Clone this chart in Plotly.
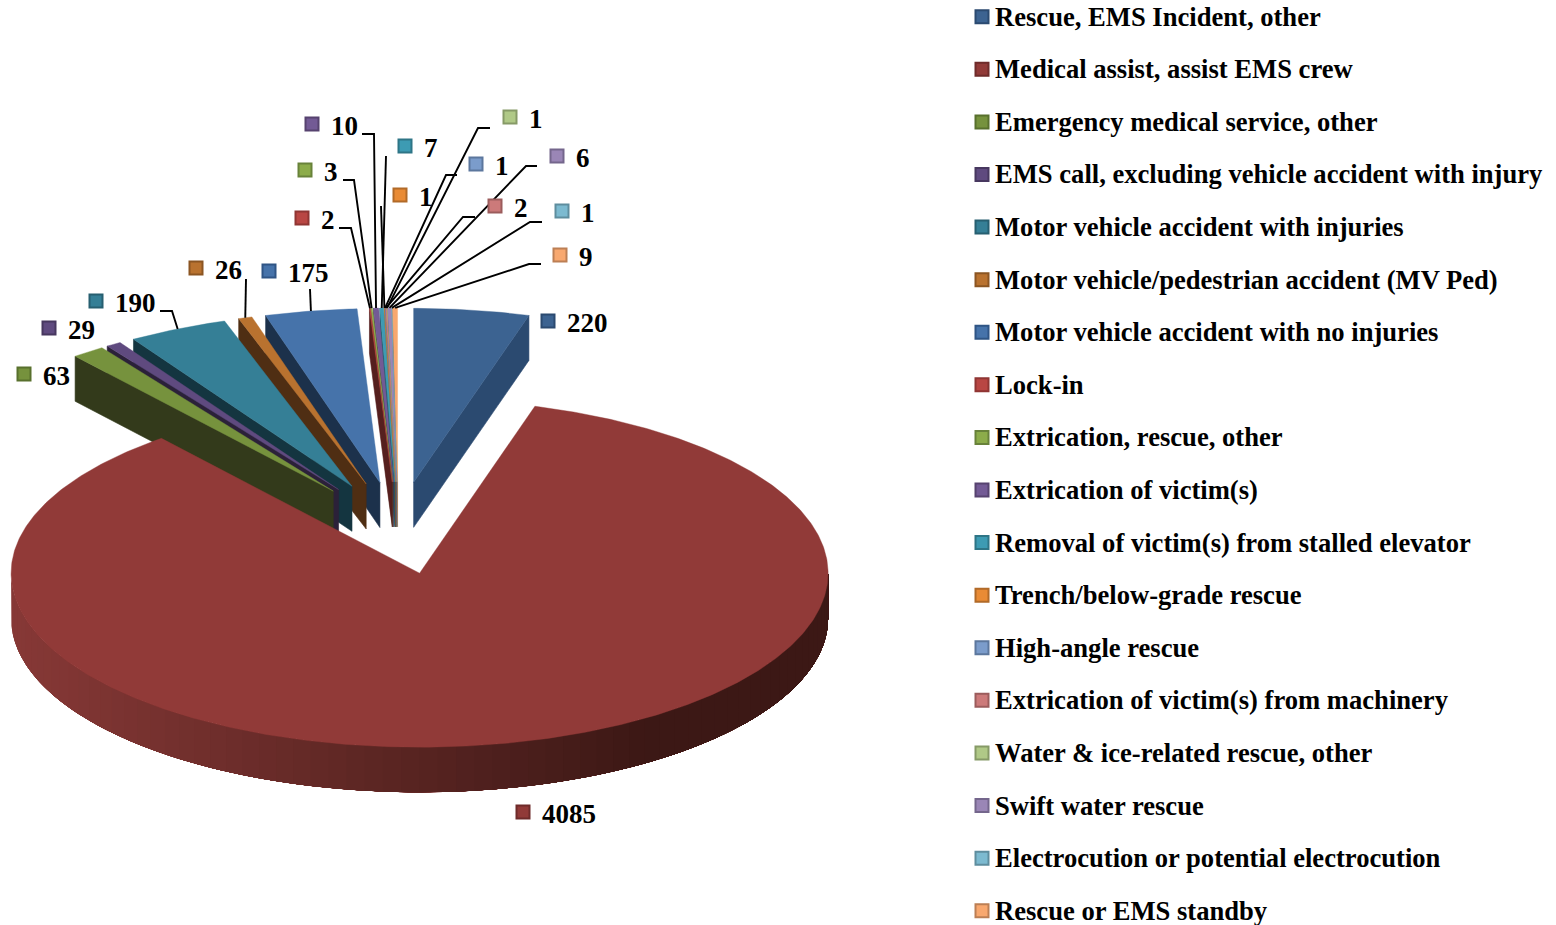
import math
import plotly.graph_objects as go

# ---------- data ----------
categories = ["Rescue, EMS Incident, other", "Medical assist, assist EMS crew",
              "Emergency medical service, other", "EMS call, excluding vehicle accident with injury",
              "Motor vehicle accident with injuries", "Motor vehicle/pedestrian accident (MV Ped)",
              "Motor vehicle accident with no injuries", "Lock-in", "Extrication, rescue, other",
              "Extrication of victim(s)", "Removal of victim(s) from stalled elevator",
              "Trench/below-grade rescue", "High-angle rescue", "Extrication of victim(s) from machinery",
              "Water & ice-related rescue, other", "Swift water rescue",
              "Electrocution or potential electrocution", "Rescue or EMS standby"]
values = [220, 4085, 63, 29, 190, 26, 175, 2, 3, 10, 7, 1, 1, 2, 1, 6, 1, 9]

# ---------- styles ----------
top_colors = ["#3c6391", "#913a38", "#76923d", "#5f4a7f", "#357f96", "#b9722f",
              "#4673aa", "#b94643", "#8cac4a", "#735a95", "#3d9bb3", "#e98b35",
              "#7b9ccb", "#cc7a7a", "#b0c987", "#9a86b6", "#7cbad0", "#f8a86f"]
face_colors = ["#2b4a70", "#3e1816", "#333a1b", "#2b2139", "#143540", "#4f2e13",
               "#1c314b", "#551f1e", "#4f6128", "#3f3151", "#1f5a6a", "#8a4f18",
               "#44618c", "#8a4a48", "#6f8648", "#5d4a78", "#3f7f95", "#b9723a"]
marker_lines = ["#2b4a70", "#6e2b2a", "#58702d", "#47375f", "#275f70", "#8b5522",
                "#2f5585", "#8f3533", "#68823a", "#56426f", "#2e7586", "#b16a28",
                "#5c779d", "#9b5c5c", "#869a67", "#74668c", "#5e8d9e", "#bc7f54"]

# ---------- page geometry (pixels of the 1556x925 canvas) ----------
CX, CY = 398.2, 528.0      # common centre before the slices are pulled out
RX, RY = 408.5, 174.0      # radii of the tilted pie
PULL = 0.265               # explosion
DEPTH = 45.0               # thickness

value_marker_pos = [(548, 321), (523, 812), (24, 374), (49, 328), (96, 301), (196, 268),
                    (269, 271), (302, 218), (305, 170), (312, 124), (405, 146), (400, 195),
                    (476, 164), (495, 206), (510, 117), (557, 156), (562, 211), (560, 255)]
# leader knots per slice, from label end to elbow; the last point is the slice rim
leader_knots = {
    4: [(160, 311), (172, 311)],
    5: [(246, 279)],
    6: [(310, 289)],
    7: [(339, 228), (351, 228)],
    8: [(343, 180), (354, 180)],
    9: [(362, 134), (374, 134)],
    10: [(386, 156)],
    11: [(381, 206)],
    12: [(457, 175), (446, 175)],
    13: [(475, 217), (463, 217)],
    14: [(490, 128), (478, 128)],
    15: [(537, 166), (526, 166)],
    16: [(542, 222), (530, 222)],
    17: [(541, 264), (529, 264)],
}
legend_rows_y = [16.7 + i * 52.59 for i in range(len(categories))]
FONT = "Liberation Serif"

# ---------- slice geometry from values ----------
total = sum(values)
spans, a = [], 0.0
for v in values:
    b = a + v / total * 2 * math.pi
    spans.append((a, b))
    a = b


def apex(a, b):
    m = (a + b) / 2
    return CX + PULL * RX * math.sin(m), CY - PULL * RY * math.cos(m)


def rim(ax, ay, t):
    return ax + RX * math.sin(t), ay - RY * math.cos(t)


def arc(ax, ay, a, b, step=0.01):
    n = max(2, int((b - a) / step))
    return [rim(ax, ay, a + (b - a) * k / n) for k in range(n + 1)]


fig = go.Figure()


def poly(pts, fill, width=0.6):
    fig.add_trace(go.Scatter(x=[p[0] for p in pts] + [pts[0][0]], y=[p[1] for p in pts] + [pts[0][1]],
                             mode="lines", fill="toself", fillcolor=fill,
                             line=dict(color=fill, width=width),
                             hoverinfo="skip", showlegend=False))


def mix(c1, c2, t):
    return "rgb(%d,%d,%d)" % tuple(round(c1[i] + (c2[i] - c1[i]) * t) for i in range(3))


# draw: right-most slivers to left, the first slice, then the large slice on top
order = list(range(len(values) - 1, 1, -1)) + [0, 1]
for i in order:
    a, b = spans[i]
    ax, ay = apex(a, b)
    if math.sin(a) < 0:
        r = rim(ax, ay, a)
        poly([(ax, ay), r, (r[0], r[1] + DEPTH), (ax, ay + DEPTH)], face_colors[i])
    if math.sin(b) > 0:
        r = rim(ax, ay, b)
        poly([(ax, ay), r, (r[0], r[1] + DEPTH), (ax, ay + DEPTH)], face_colors[i])
    if i == 1:  # outer wall, shaded from left to right by overlapping bands
        lo, hi = max(a, math.pi / 2), min(b, 3 * math.pi / 2)
        n = 70
        for k in range(n):
            t0 = hi - (hi - lo) * k / n
            p = arc(ax, ay, lo, t0, step=0.03)
            s = min(1.0, max(0.0, (p[-1][0] - 15) / 620))
            col = mix((134, 56, 54), (60, 24, 21), s)
            poly(p + [(x, y + DEPTH) for x, y in reversed(p)], col, width=0)
    poly([(ax, ay)] + arc(ax, ay, a, b), top_colors[i], width=0.4)

# leader lines
for i, knots in leader_knots.items():
    a, b = spans[i]
    ax, ay = apex(a, b)
    end = rim(ax, ay, (a + b) / 2)
    pts = knots + [end]
    fig.add_trace(go.Scatter(x=[p[0] for p in pts], y=[p[1] for p in pts], mode="lines",
                             line=dict(color="black", width=1.9), hoverinfo="skip", showlegend=False))

# value-label markers and legend markers
marker_style = dict(symbol="square", size=13, color=top_colors, line=dict(color=marker_lines, width=2))
fig.add_trace(go.Scatter(x=[p[0] for p in value_marker_pos], y=[p[1] for p in value_marker_pos],
                         mode="markers", hoverinfo="skip", showlegend=False, marker=marker_style))
fig.add_trace(go.Scatter(x=[982] * len(categories), y=legend_rows_y, mode="markers",
                         hoverinfo="skip", showlegend=False, marker=marker_style))

annotations = []
for (mx, my), v in zip(value_marker_pos, values):
    annotations.append(dict(x=mx + 17, y=my + 1.5, text=f"<b>{v}</b>", xanchor="left", yanchor="middle",
                            showarrow=False, xref="x", yref="y",
                            font=dict(family=FONT, size=27, color="black")))
for y, name in zip(legend_rows_y, categories):
    annotations.append(dict(x=993, y=y, text=f"<b>{name}</b>", xanchor="left", yanchor="middle",
                            showarrow=False, xref="x", yref="y",
                            font=dict(family=FONT, size=26.6, color="black")))

fig.update_layout(
    width=1556, height=925, margin=dict(l=0, r=0, t=0, b=0),
    paper_bgcolor="white", plot_bgcolor="white", showlegend=False,
    xaxis=dict(range=[0, 1556], visible=False, fixedrange=True),
    yaxis=dict(range=[925, 0], visible=False, fixedrange=True),
    annotations=annotations,
)
fig.write_html("out.html", config={"displayModeBar": False},
               post_script="document.body.style.margin='0';")
